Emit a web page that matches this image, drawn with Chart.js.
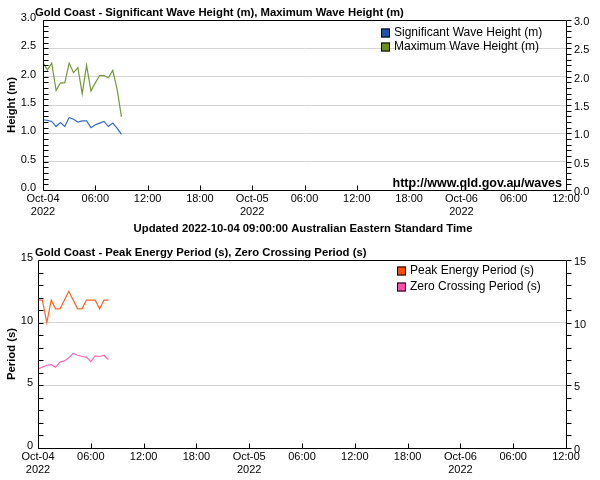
<!DOCTYPE html>
<html>
<head>
<meta charset="utf-8">
<script src="https://cdn.jsdelivr.net/npm/chart.js@4"></script>
<style>
  html, body { margin: 0; padding: 0; background: #fff; }
  .wrap { position: relative; width: 600px; height: 480px; }
  canvas { position: absolute; left: 0; }
  #waveHeight { top: 0; }
  #wavePeriod { top: 240px; }
</style>
</head>
<body>
<div class="wrap">
  <canvas id="waveHeight" width="600" height="240"></canvas>
  <canvas id="wavePeriod" width="600" height="240"></canvas>
</div>
<script>
(function () {
    "use strict";

    // Hours since Oct-04 00:00 (half-hourly records)
    const heightHours = [0, 0.5, 1, 1.5, 2, 2.5, 3, 3.5, 4, 4.5, 5, 5.5, 6, 6.5, 7, 7.5, 8, 8.5, 9];
    const sigWaveHeight = [1.24, 1.23, 1.21, 1.12, 1.19, 1.12, 1.28, 1.25, 1.20, 1.22, 1.22, 1.10, 1.15, 1.18, 1.21, 1.12, 1.18, 1.09, 0.98];
    const maxWaveHeight = [2.25, 2.12, 2.24, 1.76, 1.89, 1.89, 2.24, 2.07, 2.16, 1.70, 2.20, 1.75, 1.89, 2.02, 2.02, 1.98, 2.11, 1.78, 1.29];

    const periodHours = [0, 0.5, 1, 1.5, 2, 2.5, 3, 3.5, 4, 4.5, 5, 5.5, 6, 6.5, 7, 7.5, 8];
    const peakPeriod = [11.8, 11.8, 10.0, 11.8, 11.1, 11.1, 11.8, 12.5, 11.8, 11.1, 11.1, 11.8, 11.8, 11.8, 11.1, 11.8, 11.8];
    const zeroCrossPeriod = [6.3, 6.45, 6.6, 6.65, 6.45, 6.85, 6.95, 7.2, 7.55, 7.4, 7.3, 7.25, 6.9, 7.35, 7.3, 7.4, 7.05];

    // x axis: Oct-04 00:00 to Oct-06 12:00, ticks every 6 hours
    const dayLabels = { 0: ["Oct-04", "2022"], 24: ["Oct-05", "2022"], 48: ["Oct-06", "2022"] };
    const xMax = 60;

    const FONT = "'Liberation Sans', Arial, sans-serif";

    const toPoints = (xs, ys) => xs.map((h, i) => ({ x: h, y: ys[i] }));

    // Box, inside ticks, legend and captions
    const framePlugin = {
        id: "frame",
        afterDraw(chart, args, opts) {
            const { ctx, chartArea: a, scales } = chart;
            const y = scales.y;
            const x = scales.x;
            ctx.save();
            ctx.strokeStyle = "#000";
            ctx.lineWidth = 1;

            const L = Math.round(a.left) + 0.5;
            const R = Math.round(a.right) + 0.5;
            const T = Math.round(a.top) + 0.5;
            const B = Math.round(a.bottom) + 0.5;
            ctx.beginPath();
            ctx.moveTo(L, T); ctx.lineTo(R, T); ctx.lineTo(R, B); ctx.lineTo(L, B); ctx.closePath();
            ctx.stroke();

            // minor ticks on the value axes
            const n = Math.round((y.max - y.min) / opts.minor);
            ctx.beginPath();
            for (let i = 0; i <= n; i++) {
                const py = Math.round(y.getPixelForValue(y.min + i * opts.minor)) + 0.5;
                ctx.moveTo(L, py); ctx.lineTo(L + 5, py);
                ctx.moveTo(R, py); ctx.lineTo(R + 5, py);
            }
            // time ticks
            for (let h = 0; h <= xMax; h += 6) {
                const px = Math.round(x.getPixelForValue(h)) + 0.5;
                ctx.moveTo(px, B); ctx.lineTo(px, B - 5);
            }
            ctx.stroke();

            // title
            ctx.fillStyle = "#000";
            ctx.font = "bold 11.3px " + FONT;
            ctx.textAlign = "left";
            ctx.textBaseline = "middle";
            ctx.fillText(opts.title, 35, 13);

            // axis title
            ctx.save();
            ctx.translate(12, (a.top + a.bottom) / 2);
            ctx.rotate(-Math.PI / 2);
            ctx.textAlign = "center";
            ctx.fillText(opts.axisTitle, 0, 0);
            ctx.restore();

            // legend
            ctx.font = "12px " + FONT;
            chart.data.datasets.forEach((ds, i) => {
                const cy = opts.legendY + i * opts.legendGap;
                ctx.fillStyle = ds.legendColor;
                ctx.fillRect(opts.legendX, cy - 4.5, 9, 9);
                ctx.strokeRect(opts.legendX + 0.5, cy - 4.5 + 0.5, 8, 8);
                ctx.fillStyle = "#000";
                ctx.fillText(ds.label, opts.legendX + 13, cy);
            });

            if (opts.source) {
                ctx.font = "bold 12.5px " + FONT;
                ctx.textAlign = "right";
                ctx.fillText(opts.source, a.right - 4, a.bottom - 6);
            }
            if (opts.footer) {
                ctx.font = "bold 11.3px " + FONT;
                ctx.textAlign = "center";
                ctx.fillText(opts.footer, 303, 229);
            }
            ctx.restore();
        },
    };

    function makeChart(el, cfg) {
        const gridColor = (c) =>
            c.tick && (c.tick.value === cfg.yMin || c.tick.value === cfg.yMax) ? "rgba(0,0,0,0)" : "#d4d4d4";
        const yTicks = (offset, pad) => ({
            stepSize: cfg.yStep,
            color: "#000",
            font: { family: FONT, size: 11 },
            padding: pad,
            labelOffset: offset,
            callback: (v) => v.toFixed(cfg.decimals),
        });
        return new Chart(el.getContext("2d"), {
            type: "line",
            data: { datasets: cfg.datasets },
            plugins: [framePlugin],
            options: {
                responsive: false,
                animation: false,
                layout: { padding: { top: 20, left: 0, right: 0, bottom: 0 } },
                plugins: {
                    legend: { display: false },
                    tooltip: { enabled: false },
                    frame: cfg.frame,
                },
                elements: {
                    line: { borderWidth: 1.2, tension: 0 },
                    point: { radius: 0 },
                },
                scales: {
                    x: {
                        type: "linear",
                        min: 0,
                        max: xMax,
                        afterFit: (s) => { s.height = cfg.xHeight; },
                        grid: { display: false, drawTicks: false },
                        border: { display: false },
                        ticks: {
                            stepSize: 6,
                            autoSkip: false,
                            maxRotation: 0,
                            padding: 2,
                            color: "#000",
                            font: { family: FONT, size: 11 },
                            callback: (v) => dayLabels[v] || String(v % 24).padStart(2, "0") + ":00",
                        },
                    },
                    y: {
                        position: "left",
                        min: cfg.yMin,
                        max: cfg.yMax,
                        afterFit: (s) => { s.width = cfg.leftWidth; },
                        grid: { color: gridColor, drawTicks: false },
                        border: { display: false },
                        ticks: yTicks(-2, cfg.leftPad),
                    },
                    y2: {
                        position: "right",
                        min: cfg.yMin,
                        max: cfg.yMax,
                        afterFit: (s) => { s.width = 34; },
                        grid: { display: false, drawTicks: false },
                        border: { display: false },
                        ticks: yTicks(2, 8),
                    },
                },
            },
        });
    }

    makeChart(document.getElementById("waveHeight"), {
        yMin: 0, yMax: 3, yStep: 0.5, decimals: 1,
        leftWidth: 43, leftPad: 7, xHeight: 50,
        datasets: [
            {
                label: "Significant Wave Height (m)",
                data: toPoints(heightHours, sigWaveHeight),
                borderColor: "#3a6cc6",
                legendColor: "#1f52a8",
            },
            {
                label: "Maximum Wave Height (m)",
                data: toPoints(heightHours, maxWaveHeight),
                borderColor: "#74983a",
                legendColor: "#6b8e23",
            },
        ],
        frame: {
            minor: 0.1,
            title: "Gold Coast - Significant Wave Height (m), Maximum Wave Height (m)",
            axisTitle: "Height (m)",
            legendX: 381,
            legendY: 33,
            legendGap: 14,
            source: "http://www.qld.gov.au/waves",
            footer: "Updated 2022-10-04 09:00:00 Australian Eastern Standard Time",
        },
    });

    makeChart(document.getElementById("wavePeriod"), {
        yMin: 0, yMax: 15, yStep: 5, decimals: 0,
        leftWidth: 38, leftPad: 5, xHeight: 32,
        datasets: [
            {
                label: "Peak Energy Period (s)",
                data: toPoints(periodHours, peakPeriod),
                borderColor: "#ff6628",
                legendColor: "#ff4a0a",
            },
            {
                label: "Zero Crossing Period (s)",
                data: toPoints(periodHours, zeroCrossPeriod),
                borderColor: "#ff66bb",
                legendColor: "#ff4fae",
            },
        ],
        frame: {
            minor: 1,
            title: "Gold Coast - Peak Energy Period (s), Zero Crossing Period (s)",
            axisTitle: "Period (s)",
            legendX: 397,
            legendY: 31,
            legendGap: 16,
        },
    });
})();
</script>
</body>
</html>
